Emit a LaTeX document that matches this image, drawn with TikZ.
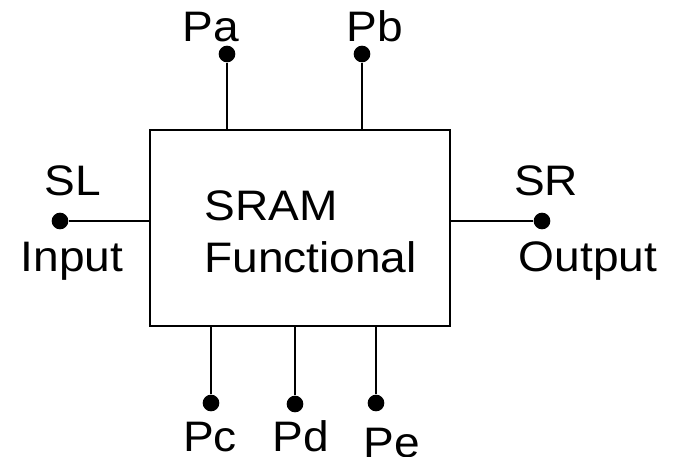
\documentclass[tikz,border=0pt]{standalone}
\usepackage{fontspec}
\setmainfont{Liberation Sans}[FakeStretch=1.08]
\usetikzlibrary{positioning}

\begin{document}
\begin{tikzpicture}[
  x=0.75pt,y=-0.75pt,
  chip/.style={draw,line width=1.5pt,minimum width=225pt,minimum height=147pt,inner sep=0pt},
  pindot/.style={circle,fill,inner sep=0pt,minimum size=12.5pt},
  wire/.style={line width=1.5pt},
  lbl/.style={inner sep=0pt,anchor=base,font=\fontsize{32}{38}\selectfont}
]
  \useasboundingbox (0,0) rectangle (673,456);

  \node[chip] (sram) at (300,228) {};

  % pins
  \node[pindot] (pa) at (227,54) {};
  \node[pindot] (pb) at (362,54) {};
  \node[pindot] (sl) at (60,221) {};
  \node[pindot] (sr) at (542,221) {};
  \node[pindot] (pc) at (211,403) {};
  \node[pindot] (pd) at (295,404) {};
  \node[pindot] (pe) at (376,403) {};

  \draw[wire] (pa) -- (pa |- sram.north);
  \draw[wire] (pb) -- (pb |- sram.north);
  \draw[wire] (sl) -- (sl -| sram.west);
  \draw[wire] (sr) -- (sr -| sram.east);
  \draw[wire] (pc) -- (pc |- sram.south);
  \draw[wire] (pd) -- (pd |- sram.south);
  \draw[wire] (pe) -- (pe |- sram.south);

  % labels
  \node[lbl] (paText) at (211,42) {Pa};
  \node[lbl] (pbText) at (375,42) {Pb};
  \node[lbl] (slText) at (73,195) {SL};
  \node[lbl] (inText) at (72,271) {Input};
  \node[lbl] (srText) at (546,195) {SR};
  \node[lbl] (outText) at (588,271) {Output};
  \node[lbl,anchor=base west] (sramText) at (204,220) {SRAM};
  \node[lbl,anchor=base west] (funcText) at (204,272) {Functional};
  \node[lbl] (pcText) at (210,451) {Pc};
  \node[lbl] (pdText) at (301,451) {Pd};
  \node[lbl] (peText) at (392,457) {Pe};
\end{tikzpicture}
\end{document}
